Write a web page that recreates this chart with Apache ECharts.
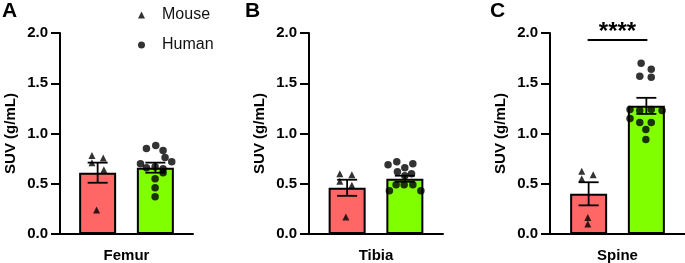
<!DOCTYPE html>
<html>
<head>
<meta charset="utf-8">
<script src="https://cdn.jsdelivr.net/npm/echarts@6/dist/echarts.min.js"></script>
<style>
  html, body { margin: 0; padding: 0; background: #fff; }
  #chart { width: 685px; height: 263px; }
</style>
</head>
<body>
<div id="chart"></div>
<script>
// bone sites, one panel each
var categories = ['Femur', 'Tibia', 'Spine'];
var panelLetters = ['A', 'B', 'C'];
var groups = ['Mouse', 'Human'];

// bar heights (mean) and error bars (SEM)
var mouseMean = [0.61, 0.46, 0.40];
var mouseSem = [0.10, 0.08, 0.115];
var humanMean = [0.66, 0.55, 1.275];
var humanSem = [0.05, 0.03, 0.08];

// individual points: x = horizontal spread inside the panel (-1..1), y = SUV
var femurMouseX = [-0.52, -0.52, -0.35, -0.34, -0.45];
var femurMouseY = [0.78, 0.71, 0.755, 0.64, 0.24];
var femurHumanX = [0.30, 0.44, 0.55, 0.21, 0.58, 0.68, 0.30, 0.43, 0.55, 0.55, 0.43, 0.43, 0.43];
var femurHumanY = [0.85, 0.88, 0.83, 0.70, 0.76, 0.72, 0.66, 0.67, 0.65, 0.61, 0.55, 0.46, 0.37];

var tibiaMouseX = [-0.54, -0.36, -0.54, -0.36, -0.45];
var tibiaMouseY = [0.60, 0.59, 0.525, 0.485, 0.17];
var tibiaHumanX = [0.18, 0.31, 0.43, 0.55, 0.32, 0.53, 0.43, 0.30, 0.42, 0.55, 0.20, 0.67];
var tibiaHumanY = [0.69, 0.72, 0.66, 0.70, 0.62, 0.60, 0.58, 0.49, 0.49, 0.49, 0.43, 0.43];

var spineMouseX = [-0.53, -0.36, -0.53, -0.44, -0.44];
var spineMouseY = [0.625, 0.59, 0.55, 0.165, 0.10];
var spineHumanX = [0.35, 0.50, 0.33, 0.50, 0.185, 0.185, 0.33, 0.50, 0.66, 0.33, 0.50, 0.42, 0.42];
var spineHumanY = [1.70, 1.64, 1.57, 1.56, 1.24, 1.15, 1.23, 1.24, 1.23, 1.11, 1.11, 1.04, 0.94];

var mouseX = [femurMouseX, tibiaMouseX, spineMouseX];
var mouseY = [femurMouseY, tibiaMouseY, spineMouseY];
var humanX = [femurHumanX, tibiaHumanX, spineHumanX];
var humanY = [femurHumanY, tibiaHumanY, spineHumanY];

// significance mark (Spine panel only)
var sigLabel = '****';
var sigLevel = 1.93;

var yTicks = [0, 0.5, 1.0, 1.5, 2.0];

var FONT = "'Liberation Sans', Arial, Helvetica, sans-serif";
var BAR_W = 37;
var BAR_GAP = '56%';

var chart = echarts.init(document.getElementById('chart'), null, { renderer: 'canvas' });

function zip(xs, ys) {
    return xs.map(function (x, k) { return [x, ys[k]]; });
}

var grids = [
    { left: 60, top: 33, width: 133, height: 203.5 },
    { left: 309, top: 33, width: 134, height: 203 },
    { left: 550, top: 33, width: 135, height: 203 }
];

var xAxes = [];
var yAxes = [];
var series = [];
var titles = [];

categories.forEach(function (cat, i) {
    titles.push({
        text: panelLetters[i],
        left: [2, 245, 490][i],
        top: 1,
        padding: 0,
        textStyle: { fontSize: 21, fontWeight: 'bold', color: '#000', fontFamily: FONT }
    });

    // category axis for the bars
    xAxes.push({
        type: 'category',
        gridIndex: i,
        data: [cat],
        axisLine: { show: true, lineStyle: { color: '#000', width: 2 } },
        axisTick: { show: false },
        axisLabel: { margin: 14, fontSize: 15, fontWeight: 'bold', color: '#000', fontFamily: FONT },
        splitLine: { show: false }
    });
    // hidden value axis, used to spread the points
    xAxes.push({
        type: 'value',
        gridIndex: i,
        min: -1,
        max: 1,
        show: false
    });

    yAxes.push({
        type: 'value',
        gridIndex: i,
        min: yTicks[0],
        max: yTicks[yTicks.length - 1],
        interval: 0.5,
        name: 'SUV (g/mL)',
        nameLocation: 'middle',
        nameGap: 42,
        nameTextStyle: { fontSize: 15, fontWeight: 'bold', color: '#000', fontFamily: FONT },
        axisLine: { show: true, onZero: false, lineStyle: { color: '#000', width: 2 } },
        axisTick: { show: true, length: 9, lineStyle: { color: '#000', width: 2 } },
        axisLabel: {
            margin: 12, fontSize: 15, fontWeight: 'bold', color: '#000', fontFamily: FONT,
            formatter: function (v) { return v.toFixed(1); }
        },
        splitLine: { show: false }
    });

    var catAxis = i * 2;
    var valAxis = i * 2 + 1;

    series.push({
        name: 'Mouse mean',
        type: 'bar',
        xAxisIndex: catAxis,
        yAxisIndex: i,
        barWidth: BAR_W,
        barGap: BAR_GAP,
        itemStyle: { color: '#ff6666', borderColor: '#000', borderWidth: 2 },
        data: [mouseMean[i]],
        z: 2
    });
    series.push({
        name: 'Human mean',
        type: 'bar',
        xAxisIndex: catAxis,
        yAxisIndex: i,
        barWidth: BAR_W,
        barGap: BAR_GAP,
        itemStyle: { color: '#80ff00', borderColor: '#000', borderWidth: 2 },
        data: [humanMean[i]],
        z: 2
    });

    // error bars (mean +/- SEM), placed with the same layout as the bars
    series.push({
        name: 'SEM',
        type: 'custom',
        xAxisIndex: catAxis,
        yAxisIndex: i,
        z: 3,
        data: [[0, mouseMean[i], mouseSem[i], 0], [0, humanMean[i], humanSem[i], 1]],
        renderItem: function (params, api) {
            var layout = api.barLayout({ barWidth: BAR_W, barGap: BAR_GAP, count: 2 });
            var g = api.value(3);
            var mean = api.value(1), sem = api.value(2);
            var c = api.coord([api.value(0), mean]);
            var x = c[0] + layout[g].offsetCenter;
            var yTop = api.coord([api.value(0), mean + sem])[1];
            var yBot = api.coord([api.value(0), mean - sem])[1];
            var cap = 10;
            var st = { stroke: '#000', lineWidth: 1.8 };
            return {
                type: 'group',
                children: [
                    { type: 'line', shape: { x1: x, y1: yTop, x2: x, y2: yBot }, style: st },
                    { type: 'line', shape: { x1: x - cap, y1: yTop, x2: x + cap, y2: yTop }, style: st },
                    { type: 'line', shape: { x1: x - cap, y1: yBot, x2: x + cap, y2: yBot }, style: st }
                ]
            };
        }
    });

    series.push({
        name: 'Mouse',
        type: 'scatter',
        xAxisIndex: valAxis,
        yAxisIndex: i,
        symbol: 'triangle',
        symbolSize: 7,
        itemStyle: { color: '#000' },
        data: zip(mouseX[i], mouseY[i]),
        z: 4
    });
    series.push({
        name: 'Human',
        type: 'scatter',
        xAxisIndex: valAxis,
        yAxisIndex: i,
        symbol: 'circle',
        symbolSize: 7.5,
        itemStyle: { color: '#000' },
        data: zip(humanX[i], humanY[i]),
        z: 4
    });
});

// significance bracket over Spine
series.push({
    name: 'significance',
    type: 'custom',
    xAxisIndex: 4,
    yAxisIndex: 2,
    z: 5,
    data: [[0, sigLevel]],
    renderItem: function (params, api) {
        var layout = api.barLayout({ barWidth: BAR_W, barGap: BAR_GAP, count: 2 });
        var c = api.coord([api.value(0), api.value(1)]);
        var x1 = c[0] + layout[0].offsetCenter - 1;
        var x2 = c[0] + layout[1].offsetCenter + 1;
        return {
            type: 'group',
            children: [
                { type: 'line', shape: { x1: x1, y1: c[1], x2: x2, y2: c[1] }, style: { stroke: '#000', lineWidth: 2 } },
                {
                    type: 'text',
                    style: {
                        text: sigLabel, x: (x1 + x2) / 2, y: c[1] + 4,
                        align: 'center', verticalAlign: 'bottom',
                        font: 'bold 24px ' + FONT, fill: '#000'
                    }
                }
            ]
        };
    }
});

var option = {
    animation: false,
    textStyle: { fontFamily: FONT },
    title: titles,
    legend: {
        data: [{ name: 'Mouse', icon: 'triangle' }, { name: 'Human', icon: 'circle' }],
        orient: 'vertical',
        left: 133,
        top: 2,
        itemWidth: 7,
        itemHeight: 7,
        itemGap: 14,
        selectedMode: false,
        textStyle: { fontSize: 16, color: '#111', fontFamily: FONT, padding: [0, 0, 0, 12] }
    },
    grid: grids,
    xAxis: xAxes,
    yAxis: yAxes,
    series: series
};

chart.setOption(option);
window.addEventListener('resize', function () { chart.resize(); });
</script>
</body>
</html>
